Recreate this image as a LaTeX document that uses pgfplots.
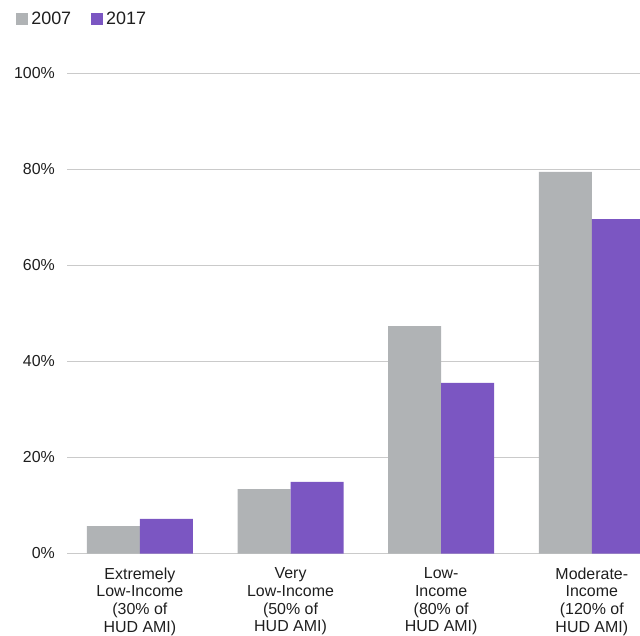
\documentclass[border=0pt]{standalone}
\usepackage{fontspec}
\setmainfont{Liberation Sans}
\usepackage{pgfplots}
\pgfplotsset{compat=1.18}
\definecolor{g07}{HTML}{B0B3B5}
\definecolor{p17}{HTML}{7B56C2}
\definecolor{gridc}{HTML}{CACACA}
\definecolor{txt}{HTML}{1E1E1E}

\begin{document}
\begin{tikzpicture}
\begin{axis}[
  at={(0,0)}, anchor=south west,
  scale only axis, width=573bp, height=480.5bp,
  ybar=0pt, bar width=0.352,
  xmin=-0.484, xmax=3.32,
  ymin=0, ymax=100,
  ytick={0,20,...,100},
  yticklabel={\pgfmathprintnumber{\tick}\%},
  xtick={0,1,2,3},
  xticklabels={{Extremely\\Low-Income\\(30\% of\\HUD AMI)},
                {Very\\Low-Income\\(50\% of\\HUD AMI)},
                {Low-\\Income\\(80\% of\\HUD AMI)},
                {Moderate-\\Income\\(120\% of\\HUD AMI)}},
  axis line style={draw=none},
  major tick length=0pt,
  ymajorgrids, grid style={gridc, line width=0.9bp},
  tick label style={font=\fontsize{16}{17.8}\selectfont, text=txt},
  yticklabel style={inner sep=0pt, xshift=-12bp},
  xticklabel style={align=center, inner sep=0pt, yshift=-14bp},
  /pgf/number format/assume math mode=true,
  legend columns=2,
  legend style={draw=none, fill=none, at={(-0.094,1.135)}, anchor=north west,
    font=\fontsize{18}{20}\selectfont, text=txt,
    /tikz/every even column/.append style={column sep=17bp},
    nodes={inner xsep=3bp}},
  legend image code/.code={\fill[#1,draw=none] (0bp,-6bp) rectangle (12bp,6bp);},
]
\addplot[fill=g07, draw=none] coordinates {(0,5.7) (1,13.4) (2,47.3) (3,79.4)};
\addlegendentry{2007}
\addplot[fill=p17, draw=none] coordinates {(0,7.2) (1,14.9) (2,35.5) (3,69.6)};
\addlegendentry{2017}
\end{axis}
\pgfresetboundingbox
\useasboundingbox (-67bp,-82.5bp) rectangle (573bp,553.5bp);
\end{tikzpicture}
\end{document}
